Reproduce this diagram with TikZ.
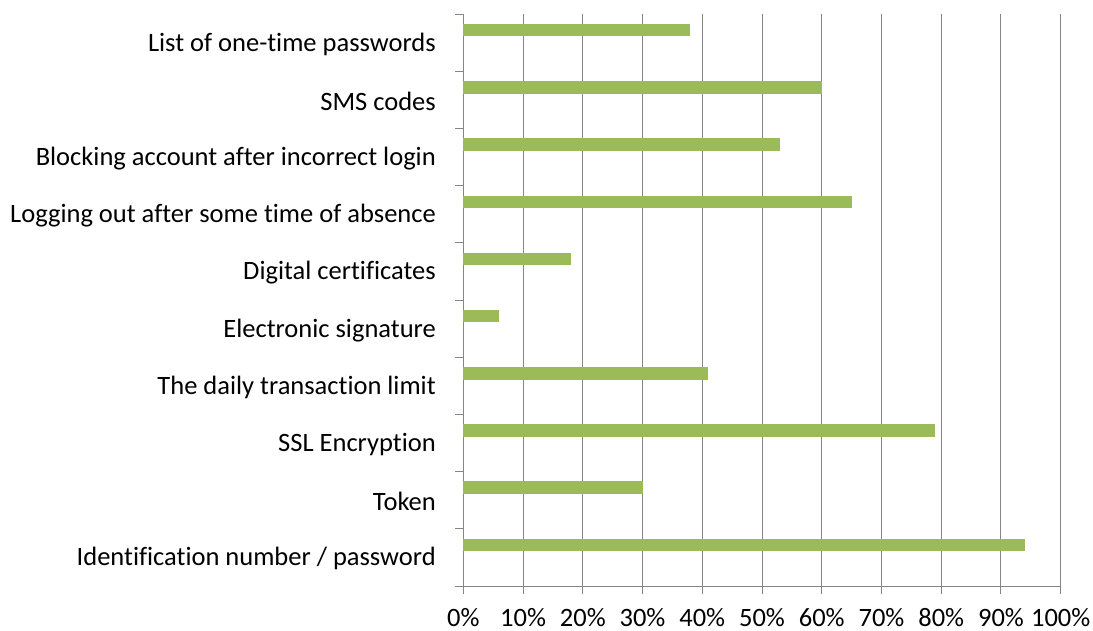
\documentclass[tikz,border=0pt]{standalone}
\usepackage{fontspec}
\setmainfont{Carlito}[Ligatures={NoCommon}]
\definecolor{bargreen}{HTML}{9BBB59}
\definecolor{gridgray}{HTML}{868686}
\begin{document}
\begin{tikzpicture}[x=1pt,y=-1pt,
  grid/.style={draw=gridgray,line width=1pt},
  bar/.style={fill=bargreen},
  catlabel/.style={anchor=east,inner sep=0pt,font=\fontsize{26.5}{30}\selectfont},
  ticklabel/.style={anchor=center,inner sep=0pt,font=\fontsize{26.5}{30}\selectfont}]
\useasboundingbox (0,0) rectangle (1093,630);
\fill[white] (0,0) rectangle (1093,630);
\def\xz{463.3}\def\xs{59.74}\def\yt{14.3}\def\yh{57.17}
% vertical gridlines and x ticks
\foreach \k/\lab in {0/0,1/10,2/20,3/30,4/40,5/50,6/60,7/70,8/80,9/90,10/100}{
  \draw[grid] ({\xz+\k*\xs},\yt) -- ({\xz+\k*\xs},594);
  \node[ticklabel] (t\k) at ({\xz+\k*\xs},617.5) {\lab\%};
}
% y-axis ticks
\foreach \j in {0,...,10}{
  \draw[grid] (455,{\yt+\j*\yh}) -- (\xz,{\yt+\j*\yh});
}
% x-axis
\draw[grid] (455,{\yt+10*\yh}) -- ({\xz+10*\xs},{\yt+10*\yh});
% bars and labels
\foreach \i/\v/\t in {
 0/38/{List of one-time passwords},
 1/60/{SMS codes},
 2/53/{Blocking account after incorrect login},
 3/65/{Logging out after some time of absence},
 4/18/{Digital certificates\ },
 5/6/{Electronic signature},
 6/41/{The daily transaction limit},
 7/79/{SSL Encryption},
 8/30/{Token},
 9/94/{Identification number / password}}{
  \fill[bar] (\xz,{\yt+(\i+0.5)*\yh-12.6-6.2}) rectangle ({\xz+\v*\xs/10},{\yt+(\i+0.5)*\yh-12.6+6.2});
  \node[catlabel] (c\i) at (436,{\yt+(\i+0.5)*\yh+1.5}) {\t};
}
\end{tikzpicture}
\end{document}
